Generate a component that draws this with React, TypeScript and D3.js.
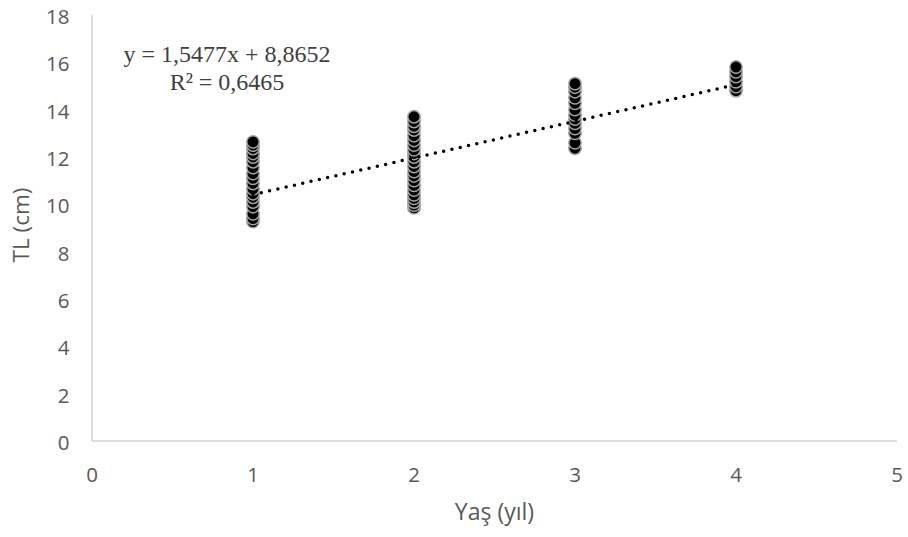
import React from "react";
import * as d3 from "d3";

const age1 = [9.27, 9.4, 9.6, 9.9, 10.1, 10.3, 10.45, 10.65, 10.88, 11.1, 11.3, 11.55, 11.8, 12.0, 12.15, 12.36, 12.5, 12.64];
const age2 = [9.85, 9.97, 10.1, 10.25, 10.4, 10.6, 10.8, 11.0, 11.2, 11.38, 11.6, 11.8, 12.0, 12.15, 12.3, 12.5, 12.7, 12.9, 13.14, 13.3, 13.5, 13.7];
const age3 = [12.37, 12.6, 13.0, 13.2, 13.42, 13.6, 13.77, 14.0, 14.27, 14.5, 14.76, 14.95, 15.1];
const age4 = [14.8, 14.97, 15.18, 15.4, 15.6, 15.8];
const ages = [1, 2, 3, 4];
const groups = [age1, age2, age3, age4];
const xTicks = [0, 1, 2, 3, 4, 5];
const yTicks = [0, 2, 4, 6, 8, 10, 12, 14, 16, 18];
const slope = 1.5477;
const intercept = 8.8652;
const equationText = "y = 1,5477x + 8,8652";
const r2Text = "R² = 0,6465";

export default function App() {
  const W = 908, H = 537;
  const x = d3.scaleLinear().domain([0, 5]).range([92, 897]);
  const y = d3.scaleLinear().domain([0, 18]).range([441, 15]);
  const points = groups.flatMap((g, i) => g.map((v) => ({ a: ages[i], v })));
  const font = "'Open Sans', 'Noto Sans', sans-serif";
  const serif = "'Liberation Serif', 'Times New Roman', serif";
  return (
    <svg width={W} height={H} style={{ position: "absolute", left: 0, top: 0, background: "#fff" }}>
      <line x1={x(0)} x2={x(0)} y1={y(18)} y2={y(0)} stroke="#bfbfbf" strokeWidth={1} />
      <line x1={x(0)} x2={x(5)} y1={y(0)} y2={y(0)} stroke="#bfbfbf" strokeWidth={1} />
      {yTicks.map((t) => (
        <text key={"y" + t} x={69.5} y={y(t) + 1.5} dy="0.36em" textAnchor="end" fontFamily={font} fontSize={20.5} fill="#595959">{t}</text>
      ))}
      {xTicks.map((t) => (
        <text key={"x" + t} x={x(t)} y={475} dy="0.36em" textAnchor="middle" fontFamily={font} fontSize={20.5} fill="#595959">{t}</text>
      ))}
      <text transform={`translate(29,225) rotate(-90)`} textAnchor="middle" fontFamily={font} fontSize={22.5} fill="#595959">TL (cm)</text>
      <text x={x(2.5)} y={520} textAnchor="middle" fontFamily={font} fontSize={23} fill="#595959">Yaş (yıl)</text>
      {points.map((p, i) => (
        <circle key={i} cx={x(p.a)} cy={y(p.v)} r={6.2} fill="#000" stroke="#a6a6a6" strokeWidth={1.5} />
      ))}
      <line x1={x(1)} y1={y(slope * 1 + intercept)} x2={x(4)} y2={y(slope * 4 + intercept)} stroke="#000" strokeWidth={3.5} strokeDasharray="0 8.5" strokeLinecap="round" />
      <text x={227} y={62} textAnchor="middle" fontFamily={serif} fontSize={24} fill="#404040">{equationText}</text>
      <text x={227} y={90} textAnchor="middle" fontFamily={serif} fontSize={24} fill="#404040">{r2Text}</text>
    </svg>
  );
}
